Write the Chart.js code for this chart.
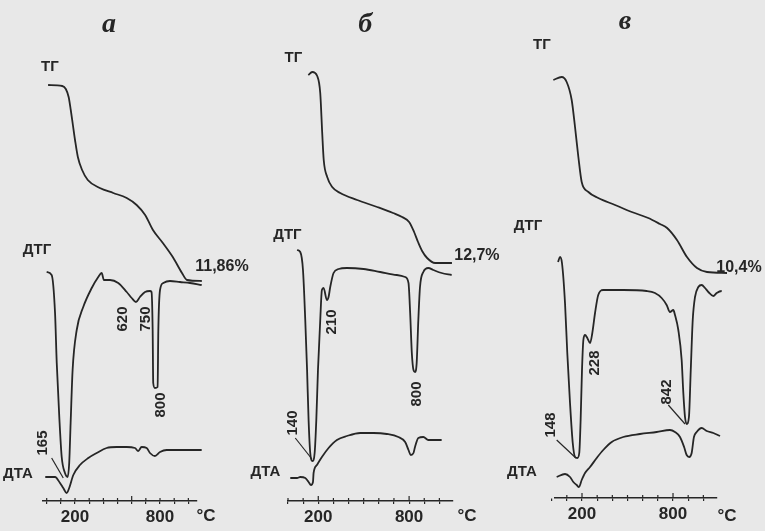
<!DOCTYPE html>
<html>
<head>
<meta charset="utf-8">
<script src="https://cdn.jsdelivr.net/npm/chart.js@4.4.1/dist/chart.umd.min.js"></script>
<style>
  body { margin: 0; background: #e8e8e8; }
  #wrap { position: relative; width: 765px; height: 531px; overflow: hidden; }
  canvas { position: absolute; top: 0; }
</style>
</head>
<body>
<div id="wrap">
  <canvas id="panelA" width="265" height="531" style="left:0px"></canvas>
  <canvas id="panelB" width="265" height="531" style="left:245px"></canvas>
  <canvas id="panelC" width="265" height="531" style="left:500px"></canvas>
</div>
<script>
// temperatures (°C) and signal levels (arbitrary units)
const aTgT = [10,110,135,155,170,185,200,220,250,290,375,470,565,635,695,750,820,890,955,990,1095];
const aTgV = [416,415,412,404,391,376,361,344,331,321,313,308,303,296,286,271,258,244,228,221,220];
const aDtgT = [0,35,59,71,89,106,129,148,159,169,183,212,258,318,364,388,404,447,505,565,600,630,658,694,729,740,748,752,764,783,788,800,823,870,941,1012,1094];
const aDtgV = [229,226,188,138,84,44,28,24,38,78,131,171,194,213,224,228,221,221,218,209,203,199,204,209,210,209,171,118,113,114,171,211,218,220,219,218,216];
const aDtaT = [-10,59,94,117,141,159,188,235,294,353,423,494,565,623,646,670,706,729,764,800,847,941,1094];
const aDtaV = [24,24,18,13,8,13,26,36,43,48,53,54,54,53,50,54,53,48,45,49,51,51,51];

const bTgT = [134,160,193,213,226,236,259,292,345,457,589,694,754,800,833,859,886,919,972,1083];
const bTgV = [426,429,425,408,368,341,324,314,308,301,294,288,284,279,269,259,250,243,238,238];
const bDtgT = [60,81,99,114,126,136,147,162,176,187,198,213,224,235,257,268,279,301,334,389,499,609,719,774,796,807,818,829,839,850,861,872,894,927,960,1015,1081];
const bDtgV = [251,249,231,181,131,81,48,40,48,81,131,181,211,213,201,204,214,228,232,233,232,229,226,224,218,188,148,131,129,138,181,214,229,233,231,228,226];
const bDtaT = [15,60,81,114,136,152,165,169,191,224,268,323,389,477,565,653,729,774,796,811,829,839,861,894,927,971,1015];
const bDtaV = [23,23,24,23,19,16,19,28,36,44,53,61,65,68,68,67,64,59,51,46,48,54,63,64,61,61,61];

const cTgT = [11,66,99,132,154,176,198,242,307,418,528,637,714,761,826,892,958,1024,1156];
const cTgV = [418,421,416,398,371,341,316,306,300,293,286,280,274,270,258,241,230,226,225];
const cDtgT = [42,55,68,88,103,121,139,154,169,182,191,200,209,220,235,253,268,286,307,340,472,626,681,725,758,780,802,813,835,857,868,879,890,905,917,930,945,967,989,1011,1033,1066,1088,1121,1154];
const cDtgV = [236,241,235,195,145,95,55,41,40,45,78,128,158,163,160,155,165,185,203,208,208,207,205,200,193,186,188,183,168,138,105,81,74,81,128,178,201,211,213,210,206,202,205,207,207];
const cDtaT = [33,88,121,143,165,180,198,220,253,297,340,396,472,582,692,780,813,846,873,890,907,923,938,956,989,1022,1066,1110,1143];
const cDtaV = [21,24,21,16,13,11,18,25,31,40,48,56,61,64,66,68,66,61,51,43,41,45,61,66,70,67,65,62,60];

const tickValues = [0,100,200,300,400,500,600,700,800,900,1000];
const tickLabels = [200, 800];

const INK = '#262626';
const SANS = '"Liberation Sans", Arial, sans-serif';

function pts(ts, vs) {
  return ts.map((t, i) => ({ x: t, y: vs[i] }));
}

// text labels, leader lines and tick stubs above the axis, placed through the chart scales
const notes = {
  id: 'notes',
  afterDatasetsDraw(chart, args, opts) {
    const ctx = chart.ctx;
    const x = chart.scales.x, y = chart.scales.y;
    ctx.save();
    ctx.strokeStyle = INK;
    ctx.fillStyle = INK;
    ctx.lineWidth = 1.2;
    tickValues.forEach(v => {
      if (v < x.min || v > x.max) return;
      const px = x.getPixelForValue(v);
      const up = (opts.major || []).includes(v) ? 5 : 3;
      ctx.beginPath();
      ctx.moveTo(px, x.top - up);
      ctx.lineTo(px, x.top);
      ctx.stroke();
    });
    (opts.leaders || []).forEach(l => {
      ctx.beginPath();
      ctx.moveTo(x.getPixelForValue(l[0]), y.getPixelForValue(l[1]));
      ctx.lineTo(x.getPixelForValue(l[2]), y.getPixelForValue(l[3]));
      ctx.stroke();
    });
    (opts.texts || []).forEach(n => {
      ctx.save();
      ctx.translate(x.getPixelForValue(n.t), y.getPixelForValue(n.h));
      if (n.rot) ctx.rotate(-Math.PI / 2);
      ctx.font = n.font || 'bold 15px ' + SANS;
      ctx.textAlign = 'center';
      ctx.textBaseline = 'middle';
      ctx.fillText(n.text, 0, 0);
      ctx.restore();
    });
    ctx.restore();
  }
};

function makePanel(id, cfg) {
  const line = (ts, vs) => ({
    data: pts(ts, vs),
    borderColor: INK,
    borderWidth: 1.8,
    pointRadius: 0,
    cubicInterpolationMode: 'monotone',
    clip: false
  });
  new Chart(document.getElementById(id), {
    type: 'line',
    data: { datasets: [line(cfg.tg[0], cfg.tg[1]), line(cfg.dtg[0], cfg.dtg[1]), line(cfg.dta[0], cfg.dta[1])] },
    options: {
      responsive: false,
      animation: false,
      layout: { padding: { left: cfg.padL, right: cfg.padR, top: 0, bottom: 0 } },
      plugins: {
        legend: { display: false },
        tooltip: { enabled: false },
        notes: { texts: cfg.texts, leaders: cfg.leaders, major: cfg.major }
      },
      scales: {
        x: {
          type: 'linear',
          min: cfg.min,
          max: cfg.max,
          afterBuildTicks: axis => { axis.ticks = tickValues.map(v => ({ value: v })); },
          afterFit: scale => { scale.height = cfg.axisH; },
          border: { display: true, color: INK, width: 1.6 },
          grid: { drawOnChartArea: false, drawTicks: true, tickLength: 3, color: INK, lineWidth: 1.2 },
          ticks: {
            padding: 3,
            maxRotation: 0,
            autoSkip: false,
            color: INK,
            font: { family: SANS, size: 17, weight: 'bold' },
            callback: v => tickLabels.includes(v) ? String(v) : ''
          }
        },
        y: { display: false, min: 0, max: cfg.top }
      }
    },
    plugins: [notes]
  });
}

const titleFont = 'italic bold 28px "Liberation Serif", "DejaVu Serif", serif';
const pctFont = 'bold 16px ' + SANS;
const unitFont = 'bold 17px ' + SANS;

makePanel('panelA', {
  tg: [aTgT, aTgV], dtg: [aDtgT, aDtgV], dta: [aDtaT, aDtaV],
  min: -26, max: 1061, padL: 43, padR: 68, axisH: 30, top: 501, major: [600],
  texts: [
    { t: 440, h: 476, text: 'а', font: titleFont },
    { t: 23, h: 434, text: 'ТГ' },
    { t: -68, h: 251, text: 'ДТГ' },
    { t: -203, h: 27, text: 'ДТА' },
    { t: 1237, h: 234, text: '11,86%', font: pctFont },
    { t: -30, h: 58, text: '165', rot: true },
    { t: 539, h: 182, text: '620', rot: true },
    { t: 701, h: 182, text: '750', rot: true },
    { t: 807, h: 96, text: '800', rot: true },
    { t: 1124, h: -15, text: '°C', font: unitFont }
  ],
  leaders: [[35, 43, 117, 23]]
});

makePanel('panelB', {
  tg: [bTgT, bTgV], dtg: [bDtgT, bDtgV], dta: [bDtaT, bDtaV],
  min: 0, max: 1090, padL: 43, padR: 57, axisH: 30, top: 501, major: [200, 800],
  texts: [
    { t: 510, h: 476, text: 'б', font: titleFont },
    { t: 35, h: 443, text: 'ТГ' },
    { t: -4, h: 266, text: 'ДТГ' },
    { t: -149, h: 29, text: 'ДТА' },
    { t: 1248, h: 245, text: '12,7%', font: pctFont },
    { t: 29, h: 78, text: '140', rot: true },
    { t: 292, h: 179, text: '210', rot: true },
    { t: 853, h: 107, text: '800', rot: true },
    { t: 1182, h: -15, text: '°C', font: unitFont }
  ],
  leaders: [[48, 63, 158, 42]]
});

makePanel('panelC', {
  tg: [cTgT, cTgV], dtg: [cDtgT, cDtgV], dta: [cDtaT, cDtaV],
  min: 22, max: 1090, padL: 55, padR: 48, axisH: 33, top: 498, major: [200, 800],
  texts: [
    { t: 483, h: 476, text: 'в', font: titleFont },
    { t: -64, h: 453, text: 'ТГ' },
    { t: -156, h: 272, text: 'ДТГ' },
    { t: -196, h: 26, text: 'ДТА' },
    { t: 1235, h: 230, text: '10,4%', font: pctFont },
    { t: -4, h: 73, text: '148', rot: true },
    { t: 286, h: 135, text: '228', rot: true },
    { t: 760, h: 106, text: '842', rot: true },
    { t: 1156, h: -18, text: '°C', font: unitFont }
  ],
  leaders: [[33, 58, 160, 40], [769, 93, 879, 74]]
});
</script>
</body>
</html>
